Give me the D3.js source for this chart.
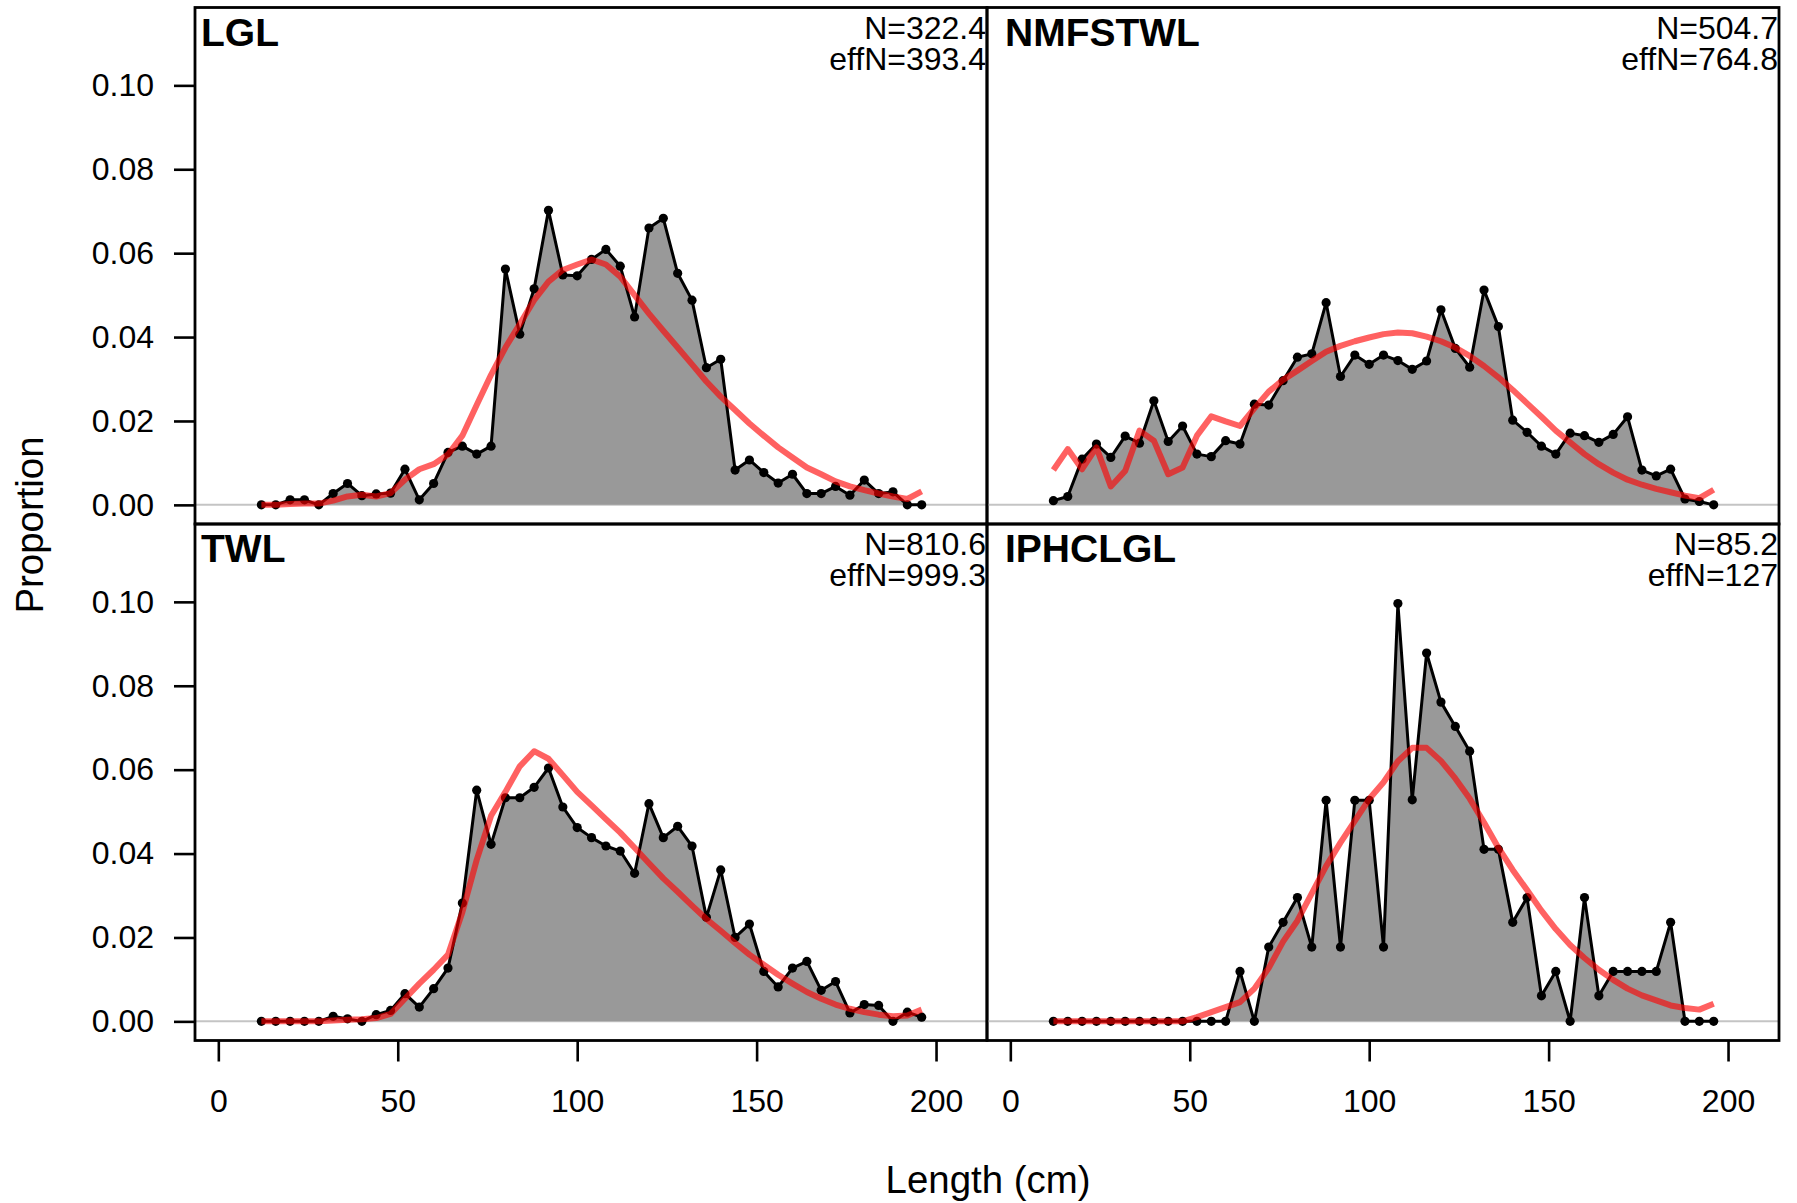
<!DOCTYPE html>
<html>
<head>
<meta charset="utf-8">
<script src="https://cdn.jsdelivr.net/npm/d3@7"></script>
<style>
  body { margin: 0; background: #ffffff; }
  svg { display: block; font-family: "Liberation Sans", Arial, Helvetica, sans-serif; }
</style>
</head>
<body>
<svg id="compSvg" width="1797" height="1203"></svg>
<script>
// length bins (cm), same for every fleet
const lengthBins = [12, 16, 20, 24, 28, 32, 36, 40, 44, 48, 52, 56, 60, 64, 68, 72, 76, 80, 84, 88,
  92, 96, 100, 104, 108, 112, 116, 120, 124, 128, 132, 136, 140, 144, 148, 152, 156, 160, 164, 168,
  172, 176, 180, 184, 188, 192, 196];

const lglObs = [0, 0, 0.0012, 0.0012, 0, 0.0027, 0.0051, 0.0022, 0.0026, 0.0028, 0.0085, 0.0012, 0.0051,
  0.0125, 0.014, 0.0121, 0.014, 0.0562, 0.0407, 0.0515, 0.0702, 0.0548, 0.0546, 0.0585, 0.0609, 0.0569,
  0.0448, 0.066, 0.0683, 0.0552, 0.0488, 0.0327, 0.0347, 0.0083, 0.0107, 0.0077, 0.0052, 0.0073, 0.0027,
  0.0027, 0.0044, 0.0023, 0.0059, 0.0027, 0.0031, 0, 0];
const lglExp = [0, 0, 0.0002, 0.0003, 0.0003, 0.001, 0.002, 0.0024, 0.002, 0.0028, 0.006, 0.0085, 0.0097,
  0.012, 0.0165, 0.0238, 0.031, 0.0375, 0.0431, 0.0488, 0.0532, 0.056, 0.0573, 0.0585, 0.0573, 0.0544,
  0.05, 0.0456, 0.0415, 0.0375, 0.0335, 0.0294, 0.0258, 0.0226, 0.0194, 0.0165, 0.0137, 0.0113, 0.0089,
  0.0073, 0.0056, 0.0044, 0.0035, 0.0027, 0.002, 0.0014, 0.0032];

const nmfsObs = [0.001, 0.002, 0.0109, 0.0145, 0.0113, 0.0164, 0.0147, 0.0248, 0.0151, 0.0188, 0.0121,
  0.0115, 0.0153, 0.0145, 0.024, 0.0238, 0.0296, 0.0352, 0.036, 0.0482, 0.0306, 0.0357, 0.0335, 0.0357,
  0.0344, 0.0323, 0.0343, 0.0465, 0.0373, 0.0328, 0.0512, 0.0425, 0.0202, 0.0173, 0.014, 0.0121, 0.0171,
  0.0165, 0.0149, 0.0168, 0.021, 0.0083, 0.0069, 0.0085, 0.0014, 0.0008, 0];
const nmfsExp = [0.0083, 0.0133, 0.0085, 0.0137, 0.0044, 0.0081, 0.0177, 0.0153, 0.0073, 0.0089, 0.0165,
  0.0211, 0.0199, 0.0188, 0.023, 0.027, 0.0298, 0.032, 0.0343, 0.0365, 0.0379, 0.039, 0.0399, 0.0407,
  0.0411, 0.0409, 0.0401, 0.039, 0.0375, 0.0355, 0.0331, 0.0304, 0.0274, 0.0242, 0.021, 0.0177, 0.0149,
  0.0121, 0.0097, 0.0077, 0.006, 0.0048, 0.0038, 0.003, 0.0022, 0.0016, 0.0036];

const twlObs = [0, 0, 0, 0, 0, 0.0012, 0.0006, 0, 0.0016, 0.0026, 0.0066, 0.0034, 0.0078, 0.0127, 0.0282,
  0.0551, 0.0422, 0.0533, 0.0533, 0.0558, 0.0604, 0.0511, 0.0462, 0.0438, 0.0418, 0.0406, 0.0353, 0.0519,
  0.0438, 0.0465, 0.0418, 0.0248, 0.0361, 0.02, 0.0232, 0.0119, 0.0082, 0.0127, 0.0143, 0.0074, 0.0095,
  0.002, 0.004, 0.0038, 0, 0.0022, 0.001];
const twlExp = [0, 0, 0, 0, 0, 0.0002, 0.0004, 0.0005, 0.0008, 0.0018, 0.0054, 0.009, 0.0123, 0.0159,
  0.026, 0.0385, 0.049, 0.0547, 0.0608, 0.0644, 0.0626, 0.0587, 0.0547, 0.0515, 0.0482, 0.045, 0.0414,
  0.0377, 0.0341, 0.0309, 0.0276, 0.0244, 0.0216, 0.0187, 0.0159, 0.0135, 0.0111, 0.009, 0.007, 0.0054,
  0.004, 0.003, 0.0022, 0.0016, 0.0012, 0.0014, 0.0028];

const iphcObs = [0, 0, 0, 0, 0, 0, 0, 0, 0, 0, 0, 0, 0, 0.0119, 0, 0.0177, 0.0236, 0.0295, 0.0177, 0.0527,
  0.0177, 0.0527, 0.0527, 0.0177, 0.0996, 0.0528, 0.0878, 0.0761, 0.0703, 0.0644, 0.041, 0.041, 0.0236,
  0.0295, 0.0061, 0.0119, 0, 0.0295, 0.0061, 0.0119, 0.0119, 0.0119, 0.0119, 0.0236, 0, 0, 0];
const iphcExp = [0, 0, 0, 0, 0, 0, 0, 0, 0, 0, 0.001, 0.0022, 0.0034, 0.0046, 0.0078, 0.0127, 0.019,
  0.024, 0.0305, 0.037, 0.0426, 0.0478, 0.053, 0.057, 0.062, 0.0652, 0.0652, 0.0621, 0.0579, 0.0531,
  0.0474, 0.0414, 0.0361, 0.0313, 0.0264, 0.022, 0.0182, 0.0151, 0.0123, 0.0099, 0.0078, 0.0062, 0.005,
  0.0038, 0.0032, 0.0028, 0.0042];

const fleetNames = ["LGL", "NMFSTWL", "TWL", "IPHCLGL"];
const sampleN = ["322.4", "504.7", "810.6", "85.2"];
const effN = ["393.4", "764.8", "999.3", "127"];

const yTicks = [0, 0.02, 0.04, 0.06, 0.08, 0.10];
const xTicks = [0, 50, 100, 150, 200];

const svg = d3.select("#compSvg");

const panelW = 792, panelH = 516.5;
const panels = [
  {name: fleetNames[0], n: sampleN[0], effN: effN[0], obs: lglObs, exp: lglExp, left: 195, top: 7.5, col: 0, row: 0},
  {name: fleetNames[1], n: sampleN[1], effN: effN[1], obs: nmfsObs, exp: nmfsExp, left: 987, top: 7.5, col: 1, row: 0},
  {name: fleetNames[2], n: sampleN[2], effN: effN[2], obs: twlObs, exp: twlExp, left: 195, top: 524, col: 0, row: 1},
  {name: fleetNames[3], n: sampleN[3], effN: effN[3], obs: iphcObs, exp: iphcExp, left: 987, top: 524, col: 1, row: 1}
];

panels.forEach(function(p) {
  const x = d3.scaleLinear().domain([-6.5, 214.2]).range([p.left, p.left + panelW]);
  const y = d3.scaleLinear().domain([-0.00456, 0.11856]).range([p.top + panelH, p.top]);

  const pts = lengthBins.map((L, i) => ({len: L, obs: p.obs[i], exp: p.exp[i]}));

  // zero reference line
  svg.append("line")
    .attr("x1", p.left).attr("x2", p.left + panelW)
    .attr("y1", y(0)).attr("y2", y(0))
    .style("stroke", "#c4c4c4")
    .style("stroke-width", 2);

  // shaded observed polygon
  const area = d3.area()
    .x(d => x(d.len))
    .y0(y(0))
    .y1(d => y(d.obs));
  svg.append("path")
    .datum(pts)
    .attr("d", area)
    .style("fill", "#999999")
    .style("stroke", "none");

  // observed line + points
  const obsLine = d3.line().x(d => x(d.len)).y(d => y(d.obs));
  svg.append("path")
    .datum(pts)
    .attr("d", obsLine)
    .style("fill", "none")
    .style("stroke", "#000")
    .style("stroke-width", 3)
    .style("stroke-linejoin", "round");

  svg.append("g")
    .selectAll("circle")
    .data(pts)
    .enter()
    .append("circle")
    .attr("cx", d => x(d.len))
    .attr("cy", d => y(d.obs))
    .attr("r", 4.6)
    .style("fill", "#000");

  // expected (model) line
  const expLine = d3.line().x(d => x(d.len)).y(d => y(d.exp));
  svg.append("path")
    .datum(pts)
    .attr("d", expLine)
    .style("fill", "none")
    .style("stroke", "rgba(255,0,0,0.62)")
    .style("stroke-width", 6)
    .style("stroke-linejoin", "round");

  // panel box
  svg.append("rect")
    .attr("x", p.left).attr("y", p.top)
    .attr("width", panelW).attr("height", panelH)
    .style("fill", "none")
    .style("stroke", "#000")
    .style("stroke-width", 2.8);

  // fleet name + sample sizes
  svg.append("text")
    .attr("x", p.left + (p.col === 0 ? 6 : 18))
    .attr("y", p.top + 38)
    .style("font-size", "39px")
    .style("font-weight", "bold")
    .text(p.name);

  svg.append("text")
    .attr("x", p.left + panelW - 1)
    .attr("y", p.top + 31)
    .attr("text-anchor", "end")
    .style("font-size", "32px")
    .text("N=" + p.n);
  svg.append("text")
    .attr("x", p.left + panelW - 1)
    .attr("y", p.top + 62)
    .attr("text-anchor", "end")
    .style("font-size", "32px")
    .text("effN=" + p.effN);

  // y axis on left column only
  if (p.col === 0) {
    const ya = svg.append("g")
      .attr("transform", "translate(" + p.left + ",0)")
      .call(d3.axisLeft(y).tickValues(yTicks).tickFormat(d3.format(".2f")).tickSize(21).tickPadding(20));
    ya.select(".domain").remove();
    ya.selectAll("line").style("stroke", "#000").style("stroke-width", 2.6);
    ya.selectAll("text").style("font-size", "32px").style("fill", "#000")
      .style("font-family", "'Liberation Sans', Arial, Helvetica, sans-serif");
  }

  // x axis on bottom row only
  if (p.row === 1) {
    const xa = svg.append("g")
      .attr("transform", "translate(0," + (p.top + panelH) + ")")
      .call(d3.axisBottom(x).tickValues(xTicks).tickFormat(d3.format("d")).tickSize(21).tickPadding(28));
    xa.select(".domain").remove();
    xa.selectAll("line").style("stroke", "#000").style("stroke-width", 2.6);
    xa.selectAll("text").style("font-size", "32px").style("fill", "#000")
      .style("font-family", "'Liberation Sans', Arial, Helvetica, sans-serif");
  }
});

// axis titles
svg.append("text")
  .attr("x", 988)
  .attr("y", 1193)
  .attr("text-anchor", "middle")
  .style("font-size", "38.4px")
  .text("Length (cm)");

svg.append("text")
  .attr("transform", "translate(43,525) rotate(-90)")
  .attr("text-anchor", "middle")
  .style("font-size", "38.4px")
  .text("Proportion");
</script>
</body>
</html>
